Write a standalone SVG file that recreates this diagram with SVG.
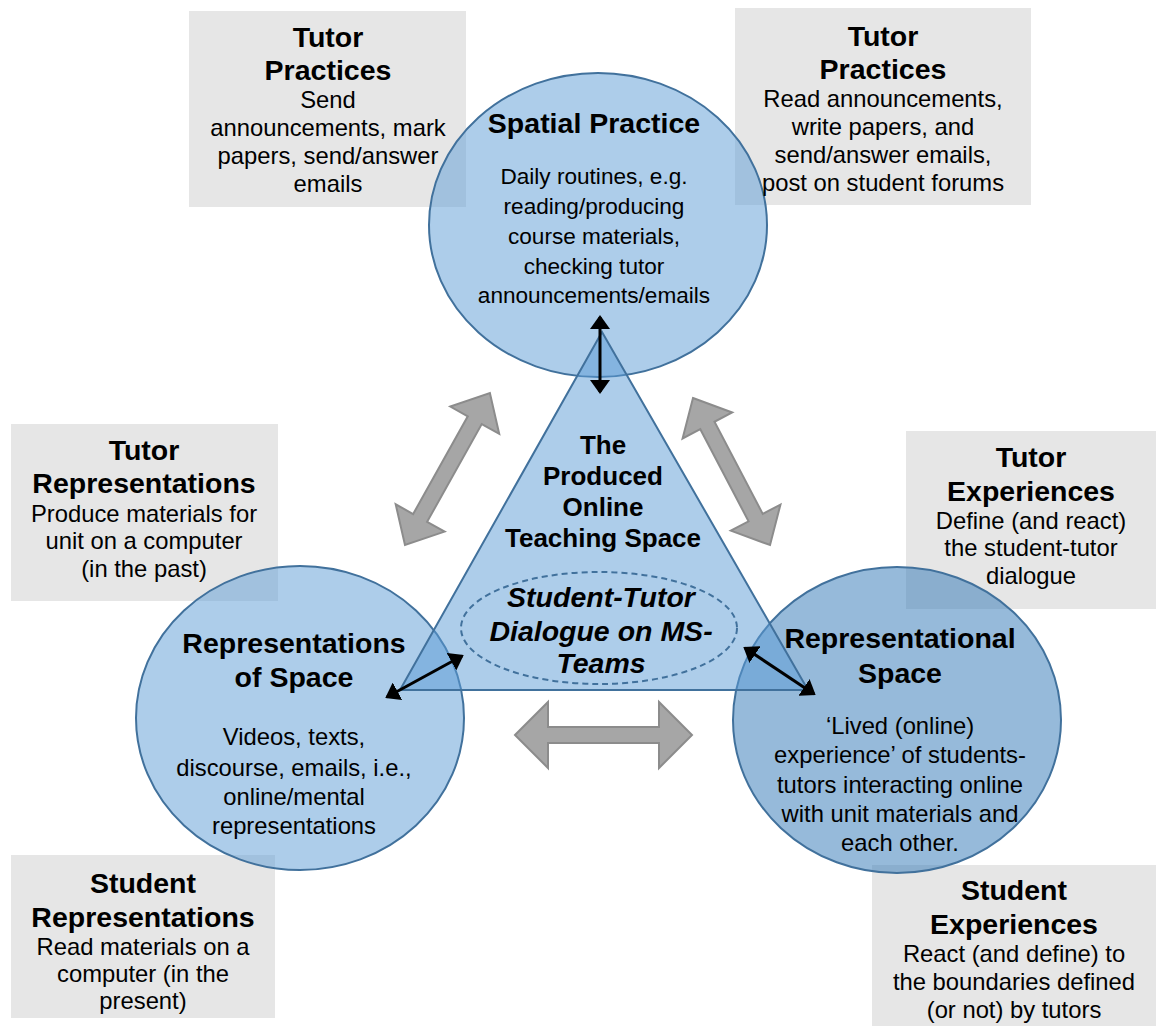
<svg xmlns="http://www.w3.org/2000/svg" width="1156" height="1026" viewBox="0 0 1156 1026">
<defs>
<style>
text{font-family:"Liberation Sans",Arial,sans-serif;fill:#000;text-anchor:middle}
.t{font-weight:bold;font-size:28.5px}
.tt{font-weight:bold;font-size:26px}
.b{font-size:23.8px}
.s{font-size:22.6px}
.it{font-weight:bold;font-style:italic;font-size:28.5px}
.box{fill:#e6e6e6}
.circ{fill:#5b9bd5;fill-opacity:0.5;stroke:#41719c;stroke-width:2}
.circ2{fill:#2e75b6;fill-opacity:0.5;stroke:#41719c;stroke-width:2}
.tri{fill:#5b9bd5;fill-opacity:0.5;stroke:#41719c;stroke-width:2}
.dash{fill:none;stroke:#41719c;stroke-width:2;stroke-dasharray:6 4}
.garrow{fill:#a6a6a6;stroke:#8c8c8c;stroke-width:2}
.conn{stroke:#000;stroke-width:3;fill:none;marker-start:url(#ah);marker-end:url(#ah)}
</style>
<marker id="ah" viewBox="0 0 14 20" refX="12" refY="10" markerWidth="14" markerHeight="20" markerUnits="userSpaceOnUse" orient="auto-start-reverse"><path d="M0,0 L14,10 L0,20 z" fill="#000"/></marker>
</defs>
<rect width="1156" height="1026" fill="#fff"/>

<g id="box-tutor-practices-left"><rect class="box" x="189" y="11" width="277" height="196"/></g>
<g id="box-tutor-practices-right"><rect class="box" x="735" y="8" width="296" height="197"/></g>
<g id="box-tutor-representations"><rect class="box" x="11" y="424" width="267" height="177"/></g>
<g id="box-tutor-experiences"><rect class="box" x="906" y="431" width="250" height="178"/></g>
<g id="box-student-representations"><rect class="box" x="11" y="855" width="264" height="163"/></g>
<g id="box-student-experiences"><rect class="box" x="872" y="865" width="284" height="161"/></g>

<g id="spatial-practice"><ellipse class="circ" cx="598" cy="225" rx="169" ry="152"/></g>
<g id="representations-of-space"><ellipse class="circ" cx="300" cy="718" rx="164" ry="152"/></g>
<g id="representational-space"><ellipse class="circ2" cx="897" cy="720" rx="164" ry="153"/></g>
<g id="produced-space"><polygon class="tri" points="602,332 400,690 808,690"/><ellipse class="dash" cx="599" cy="628" rx="138" ry="56"/></g>

<g id="relations">
<path class="garrow" transform="translate(405,545) rotate(-60.8)" d="M0,0 L31,-28 L31,-8 L143,-8 L143,-28 L174,0 L143,28 L143,8 L31,8 L31,28 Z"/>
<path class="garrow" transform="translate(693,398) rotate(62.35)" d="M0,0 L31,-28 L31,-8 L135,-8 L135,-28 L166,0 L135,28 L135,8 L31,8 L31,28 Z"/>
<path class="garrow" transform="translate(515,735)" d="M0,0 L33,-33 L33,-8 L144,-8 L144,-33 L177,0 L144,33 L144,8 L33,8 L33,33 Z"/>
</g>
<g id="connectors">
<line class="conn" x1="600" y1="317" x2="600" y2="392"/>
<line class="conn" x1="387" y1="697" x2="462" y2="656"/>
<line class="conn" x1="745" y1="648" x2="814" y2="694"/>
</g>

<g id="labels">
<text class="t" x="328" y="47">Tutor</text>
<text class="t" x="328" y="80">Practices</text>
<text class="b" x="328" y="108">Send</text>
<text class="b" x="328" y="136">announcements, mark</text>
<text class="b" x="328" y="164">papers, send/answer</text>
<text class="b" x="328" y="192">emails</text>

<text class="t" x="883" y="46">Tutor</text>
<text class="t" x="883" y="79">Practices</text>
<text class="b" x="883" y="107">Read announcements,</text>
<text class="b" x="883" y="135">write papers, and</text>
<text class="b" x="883" y="163">send/answer emails,</text>
<text class="b" x="883" y="191">post on student forums</text>

<text class="t" x="594" y="133">Spatial Practice</text>
<text class="s" x="594" y="184">Daily routines, e.g.</text>
<text class="s" x="594" y="214">reading/producing</text>
<text class="s" x="594" y="244">course materials,</text>
<text class="s" x="594" y="274">checking tutor</text>
<text class="s" x="594" y="303">announcements/emails</text>

<text class="t" x="144" y="460">Tutor</text>
<text class="t" x="144" y="493">Representations</text>
<text class="b" x="144" y="522">Produce materials for</text>
<text class="b" x="144" y="549">unit on a computer</text>
<text class="b" x="144" y="577">(in the past)</text>

<text class="tt" x="603" y="454">The</text>
<text class="tt" x="603" y="485">Produced</text>
<text class="tt" x="603" y="516">Online</text>
<text class="tt" x="603" y="547">Teaching Space</text>
<text class="it" x="601" y="607">Student-Tutor</text>
<text class="it" x="601" y="641">Dialogue on MS-</text>
<text class="it" x="601" y="673">Teams</text>

<text class="t" x="1031" y="467">Tutor</text>
<text class="t" x="1031" y="501">Experiences</text>
<text class="b" x="1031" y="529">Define (and react)</text>
<text class="b" x="1031" y="556">the student-tutor</text>
<text class="b" x="1031" y="584">dialogue</text>

<text class="t" x="294" y="653">Representations</text>
<text class="t" x="294" y="687">of Space</text>
<text class="b" x="294" y="745">Videos, texts,</text>
<text class="b" x="294" y="776">discourse, emails, i.e.,</text>
<text class="b" x="294" y="805">online/mental</text>
<text class="b" x="294" y="834">representations</text>

<text class="t" x="900" y="648">Representational</text>
<text class="t" x="900" y="683">Space</text>
<text class="b" x="900" y="734">‘Lived (online)</text>
<text class="b" x="900" y="763">experience’ of students-</text>
<text class="b" x="900" y="793">tutors interacting online</text>
<text class="b" x="900" y="822">with unit materials and</text>
<text class="b" x="900" y="851">each other.</text>

<text class="t" x="143" y="893">Student</text>
<text class="t" x="143" y="927">Representations</text>
<text class="b" x="143" y="955">Read materials on a</text>
<text class="b" x="143" y="982">computer (in the</text>
<text class="b" x="143" y="1009">present)</text>

<text class="t" x="1014" y="900">Student</text>
<text class="t" x="1014" y="934">Experiences</text>
<text class="b" x="1014" y="962">React (and define) to</text>
<text class="b" x="1014" y="990">the boundaries defined</text>
<text class="b" x="1014" y="1018">(or not) by tutors</text>
</g>
</svg>
